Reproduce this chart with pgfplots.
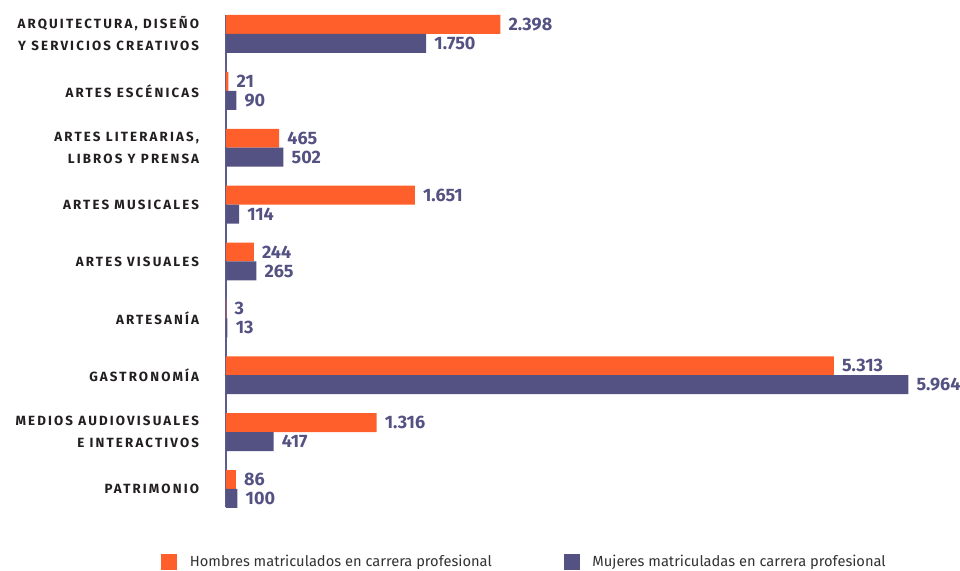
\documentclass[border=0pt]{standalone}
\usepackage{fontspec}
\setmainfont{Fira Sans}
\newfontfamily\catfont[LetterSpace=16]{Fira Sans}
\usepackage{pgfplots}
\pgfplotsset{compat=1.18}
\definecolor{orng}{HTML}{FF5F2A}
\definecolor{purp}{HTML}{535283}
\definecolor{axisc}{HTML}{5E5D8E}
\definecolor{catc}{HTML}{231F20}
\definecolor{legc}{HTML}{333333}

\begin{document}
\begin{tikzpicture}
\begin{axis}[
    at={(0,0)}, anchor=south west,
    scale only axis,
    width=536.25pt, height=369pt,
    xbar, bar width=0.3333, bar shift=0pt,
    xmin=0, xmax=6250,
    ymin=-0.3333, ymax=8.3167,
    y dir=reverse,
    clip=false,
    axis x line=none, xtick=\empty,
    axis y line*=left,
    y axis line style={axisc, line width=1.2pt},
    major tick length=0pt,
    ytick={0,1,2,3,4,5,6,7,8},
    yticklabels={
      {ARQUITECTURA, DISEÑO\\Y SERVICIOS CREATIVOS},
      {ARTES ESCÉNICAS},
      {ARTES LITERARIAS,\\LIBROS Y PRENSA},
      {ARTES MUSICALES},
      {ARTES VISUALES},
      {ARTESANÍA},
      {GASTRONOMÍA},
      {MEDIOS AUDIOVISUALES\\E INTERACTIVOS},
      {PATRIMONIO}},
    yticklabel style={font=\catfont\bfseries\fontsize{10}{16.5}\selectfont,
      align=right, text=catc, inner sep=0pt, xshift=-20pt},
    point meta=x,
    nodes near coords={\pgfmathprintnumber[fixed,precision=0,1000 sep={.},assume math mode=true]{\pgfplotspointmeta}},
    nodes near coords style={font=\bfseries\fontsize{13.5}{14}\selectfont,
      text=purp, anchor=west, inner sep=0pt, xshift=6pt},
    legend columns=2,
    legend image code/.code={\fill[#1] (0pt,-6pt) rectangle (12pt,6pt);},
    legend style={at={(0.418,-0.112)}, anchor=center, draw=none,
      font=\fontsize{11}{13}\selectfont, text=legc,
      /tikz/every odd column/.append style={column sep=7.5pt},
      /tikz/every even column/.append style={column sep=52pt}},
  ]
  \addplot[fill=orng, draw=none] coordinates {
    (2398,-0.1667) (21,0.8333) (465,1.8333) (1651,2.8333) (244,3.8333)
    (3,4.8333) (5313,5.8333) (1316,6.8333) (86,7.8333)};
  \addlegendentry{Hombres matriculados en carrera profesional}
  \addplot[fill=purp, draw=none] coordinates {
    (1750,0.1667) (90,1.1667) (502,2.1667) (114,3.1667) (265,4.1667)
    (13,5.1667) (5964,6.1667) (417,7.1667) (100,8.1667)};
  \addlegendentry{Mujeres matriculadas en carrera profesional}
\end{axis}
\pgfresetboundingbox
\useasboundingbox (-169.5pt,-48pt) rectangle (550.5pt,380.25pt);
\end{tikzpicture}
\end{document}
